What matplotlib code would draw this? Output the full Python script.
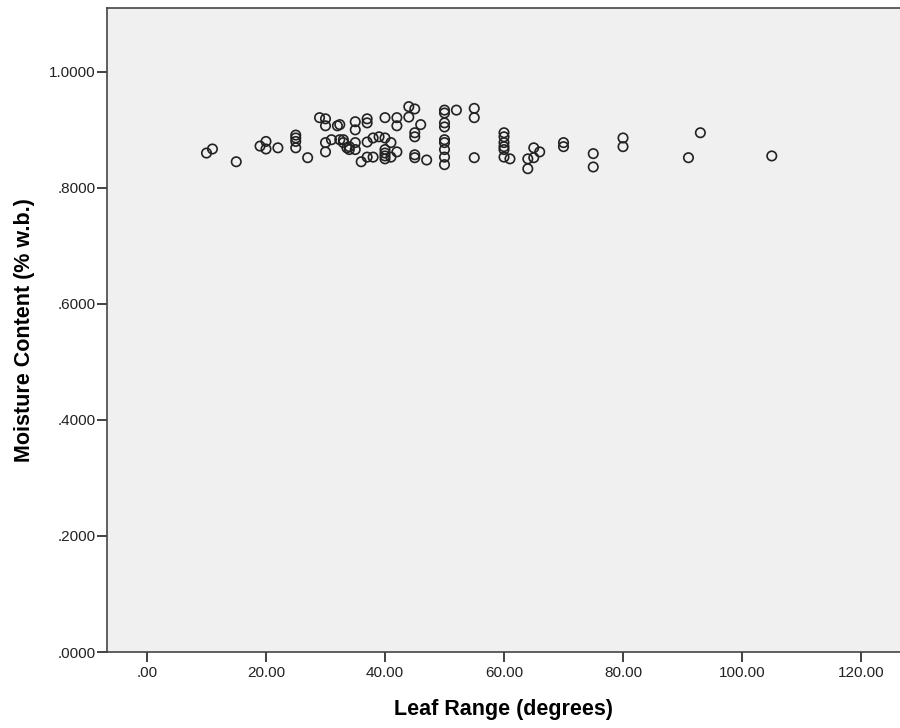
import matplotlib.pyplot as plt
from matplotlib.ticker import FuncFormatter

# Leaf range (degrees) and moisture content (fraction, w.b.)
leaf_range = [10, 11, 15, 19, 20, 20, 22, 25, 25, 25, 25, 27, 29, 30, 30, 32,
              30, 30, 31, 33, 33.6, 32.4, 35, 35, 37, 37, 40, 42, 42, 44,
              45, 44, 46, 45, 45, 45, 45, 47,
              50, 50, 50, 50, 50, 50, 50, 50, 50, 52, 55, 55, 55,
              32.4, 33, 34, 34, 35, 35, 36, 37, 37, 38, 38, 39, 40,
              40, 40, 40, 40, 41, 42, 41,
              60, 60, 60, 60, 60, 60, 61, 64, 64, 65, 66, 65, 70, 70,
              75, 75, 80, 80, 93, 91, 105]
moisture = [0.860, 0.867, 0.845, 0.872, 0.880, 0.867, 0.869, 0.891, 0.886, 0.880, 0.869,
            0.852, 0.921, 0.919, 0.907, 0.907, 0.878, 0.862, 0.883, 0.883, 0.869,
            0.909, 0.914, 0.900, 0.919, 0.912, 0.921, 0.921, 0.907, 0.940,
            0.936, 0.922, 0.909, 0.895, 0.888, 0.857, 0.852, 0.848,
            0.934, 0.929, 0.912, 0.905, 0.883, 0.878, 0.866, 0.853, 0.840,
            0.934, 0.937, 0.921, 0.852,
            0.883, 0.878, 0.871, 0.866, 0.878, 0.866, 0.845, 0.879, 0.853,
            0.886, 0.853, 0.888, 0.886, 0.866, 0.860, 0.855, 0.850, 0.878,
            0.862, 0.853,
            0.895, 0.888, 0.878, 0.871, 0.866, 0.853, 0.850, 0.850, 0.833,
            0.869, 0.862, 0.852, 0.878, 0.871, 0.859, 0.836, 0.886, 0.871,
            0.895, 0.852, 0.855]

x_ticks = [0, 20, 40, 60, 80, 100, 120]
y_ticks = [0.0, 0.2, 0.4, 0.6, 0.8, 1.0]

plt.rcParams['font.family'] = ['Liberation Sans', 'DejaVu Sans']

fig = plt.figure(figsize=(9, 7.28), dpi=100)
ax = fig.add_axes([107 / 900, 76 / 728, 793 / 900, 644 / 728])
ax.set_facecolor("#f0f0f0")

ax.scatter(leaf_range, moisture, s=46, facecolors="none", edgecolors="#222222",
           linewidths=1.2, zorder=3)

ax.set_xlim(-6.72, 126.55)
ax.set_ylim(0, 1.110)
ax.set_xticks(x_ticks)
ax.set_yticks(y_ticks)


def fmt_x(v, pos):
    s = "%.2f" % v
    return s[1:] if s.startswith("0.") else s


def fmt_y(v, pos):
    s = "%.4f" % v
    return s[1:] if s.startswith("0.") else s


ax.xaxis.set_major_formatter(FuncFormatter(fmt_x))
ax.yaxis.set_major_formatter(FuncFormatter(fmt_y))
ax.tick_params(axis="both", direction="out", length=7, width=1.3, color="#333333",
               labelsize=11, labelcolor="#222222", pad=1)
ax.tick_params(axis="x", pad=3)

for side in ["left", "top", "bottom"]:
    ax.spines[side].set_color("#444444")
    ax.spines[side].set_linewidth(1.2)
ax.spines["right"].set_visible(False)

ax.set_xlabel("Leaf Range (degrees)", fontsize=15.5, fontweight="bold", labelpad=14)
ax.set_ylabel("Moisture Content (% w.b.)", fontsize=15.5, fontweight="bold", labelpad=10)

fig.savefig("out.png", dpi=100)
